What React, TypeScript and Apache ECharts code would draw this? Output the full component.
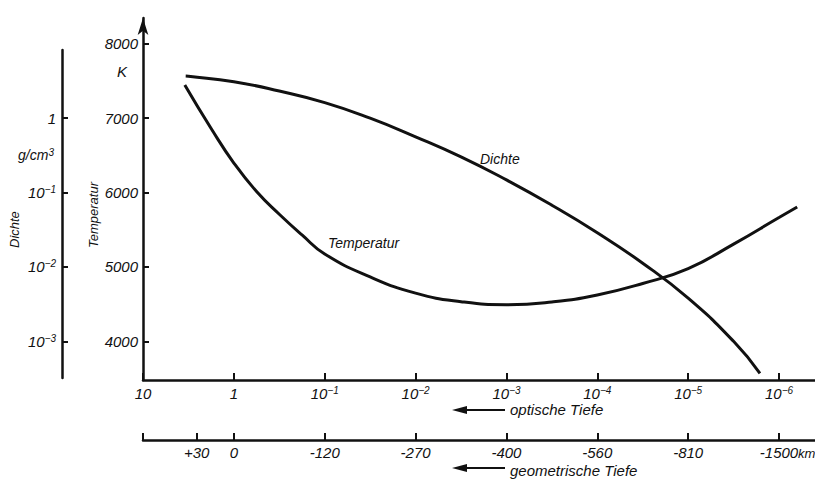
import React, { useEffect, useRef } from "react";
import * as echarts from "echarts";

// optical depth given as log10(tau)
const opticalTickPos = [1, 0, -1, -2, -3, -4, -5, -6];
const opticalTickLabels = ["10", "1", "10^-1", "10^-2", "10^-3", "10^-4", "10^-5", "10^-6"];

// geometric depth (km) at optical-depth positions
const geoTickPos = [1, 0.41, 0, -1, -2, -3, -4, -5, -6];
const geoLabelPos = [0.41, 0, -1, -2, -3, -4, -5, -6];
const geoTickLabels = ["+30", "0", "-120", "-270", "-400", "-560", "-810", "-1500"];

const tempTicks = [4000, 5000, 6000, 7000, 8000];
const densityTicks = [-3, -2, -1, 0];
const densityTickLabels = ["10^-3", "10^-2", "10^-1", "1"];

// Temperature curve (K) vs log10(tau)
const tempLogTau = [0.54, 0.25, 0, -0.25, -0.5, -0.75, -1, -1.5, -2, -2.5, -3, -3.5, -4, -4.5, -5, -5.5, -6, -6.2];
const tempK = [7447, 6862, 6397, 6013, 5708, 5430, 5174, 4866, 4648, 4533, 4492, 4529, 4623, 4778, 4979, 5307, 5664, 5806];

// Density curve, log10(rho / g cm^-3) vs log10(tau)
const densLogTau = [0.53, 0.5, 0, -0.5, -1, -1.5, -2, -2.5, -3, -3.5, -4, -4.5, -5, -5.5, -5.79];
const densLogRho = [0.568, 0.565, 0.49, 0.365, 0.21, 0.0, -0.25, -0.52, -0.83, -1.17, -1.54, -1.95, -2.42, -3.0, -3.43];

const FONT = "'Liberation Sans', Arial, sans-serif";
const INK = "#111";

function richLabel(s: string): string {
  if (s.includes("^")) {
    const [b, e] = s.split("^");
    return `{b|${b}}{s|${e.replace("-", "\u2212")}}`;
  }
  return `{b|${s}}`;
}

const rich = {
  b: { fontSize: 15, lineHeight: 16, fontStyle: "italic", fontFamily: FONT, color: INK },
  s: { fontSize: 10, lineHeight: 8, verticalAlign: "top", fontStyle: "italic", fontFamily: FONT, color: INK },
};

function lookup(pos: number[], labels: string[], v: number): string {
  const i = pos.findIndex((p) => Math.abs(p - v) < 1e-6);
  return i >= 0 ? labels[i] : "";
}

export default function App() {
  const ref = useRef<HTMLDivElement>(null);
  useEffect(() => {
    if (!ref.current) return;
    const chart = echarts.init(ref.current, undefined, { renderer: "svg" });
    const axisLine = { onZero: false, lineStyle: { color: INK, width: 2.5 } };
    const tickStyle = { color: INK, width: 2 };
    const txt = (text: string, x: number, y: number, fontSize: number, extra: any = {}, lh?: number) => ({
      type: "text", x, y, ...extra,
      style: { text, fontSize, lineHeight: lh ?? fontSize, fontStyle: "italic", fontFamily: FONT, fill: INK, textAlign: "left", textVerticalAlign: "middle" },
    });
    const option: any = {
      animation: false,
      backgroundColor: "#fff",
      textStyle: { fontFamily: FONT, fontStyle: "italic", color: INK },
      grid: [
        { left: 143, right: 0, top: 18, bottom: 99 },
        { left: 62, width: 10, top: 50, bottom: 101 },
      ],
      xAxis: [
        {
          gridIndex: 0, type: "value", min: -6.396, max: 1, inverse: true, position: "bottom",
          axisLine,
          axisTick: { inside: true, length: 7, lineStyle: tickStyle, customValues: opticalTickPos },
          axisLabel: {
            customValues: opticalTickPos, margin: 5, showMinLabel: true, showMaxLabel: true,
            formatter: (v: number) => richLabel(lookup(opticalTickPos, opticalTickLabels, v)), rich,
          },
          splitLine: { show: false },
        },
        {
          gridIndex: 0, type: "value", min: -6.396, max: 1, inverse: true, position: "bottom", offset: 60,
          axisLine,
          axisTick: { inside: true, length: 7, lineStyle: tickStyle, customValues: geoTickPos },
          axisLabel: {
            customValues: geoLabelPos, margin: 6, showMinLabel: true, showMaxLabel: true,
            fontSize: 15, lineHeight: 12, fontStyle: "italic", fontFamily: FONT, color: INK,
            formatter: (v: number) => lookup(geoLabelPos, geoTickLabels, v),
          },
          splitLine: { show: false },
        },
        { gridIndex: 1, type: "value", show: false, min: 0, max: 1 },
      ],
      yAxis: [
        {
          gridIndex: 0, type: "value", min: 3480, max: 8347, position: "left",
          axisLine: { ...axisLine, symbol: ["none", "arrow"], symbolSize: [8, 17] },
          axisTick: { inside: true, length: 6, lineStyle: tickStyle, customValues: tempTicks },
          axisLabel: {
            customValues: tempTicks, margin: 5, fontSize: 15, fontStyle: "italic", fontFamily: FONT, color: INK,
            formatter: (v: number) => String(v),
          },
          splitLine: { show: false },
        },
        { gridIndex: 0, type: "value", show: false, min: -3.52, max: 1.347 },
        {
          gridIndex: 1, type: "value", min: -3.493, max: 0.917, position: "left",
          axisLine,
          axisTick: { inside: true, length: 6, lineStyle: tickStyle, customValues: densityTicks },
          axisLabel: {
            customValues: densityTicks, margin: 6,
            formatter: (v: number) => richLabel(lookup(densityTicks, densityTickLabels, v)), rich,
          },
          splitLine: { show: false },
        },
      ],
      series: [
        {
          name: "Temperatur", type: "line", xAxisIndex: 0, yAxisIndex: 0, smooth: 0.5, symbol: "none", silent: true,
          lineStyle: { color: INK, width: 3 },
          data: tempLogTau.map((x, i) => [x, tempK[i]]),
        },
        {
          name: "Dichte", type: "line", xAxisIndex: 0, yAxisIndex: 1, smooth: 0.5, symbol: "none", silent: true,
          lineStyle: { color: INK, width: 3 },
          data: densLogTau.map((x, i) => [x, densLogRho[i]]),
        },
      ],
      graphic: [
        txt("K", 117, 71, 15),
        {
          type: "text", x: 36, y: 155,
          style: {
            text: "{b|g/cm}{s|3}", textAlign: "center", textVerticalAlign: "middle",
            rich: { b: { fontSize: 14, lineHeight: 16, fontStyle: "italic", fontFamily: FONT, fill: INK }, s: { fontSize: 10, lineHeight: 8, verticalAlign: "top", fontStyle: "italic", fontFamily: FONT, fill: INK } },
          },
        },
        txt("Dichte", 14, 248, 13, { rotation: Math.PI / 2 }),
        txt("Temperatur", 93, 248, 13, { rotation: Math.PI / 2 }),
        txt("Dichte", 480, 159, 14),
        txt("Temperatur", 328, 243, 14),
        // optical depth arrow
        { type: "line", shape: { x1: 505, y1: 410, x2: 462, y2: 410 }, style: { stroke: INK, lineWidth: 2 } },
        { type: "polygon", shape: { points: [[452, 410], [467, 406], [467, 414]] }, style: { fill: INK } },
        txt("optische Tiefe", 510, 409, 15, {}, 13),
        // geometric depth arrow
        { type: "line", shape: { x1: 505, y1: 468, x2: 462, y2: 468 }, style: { stroke: INK, lineWidth: 2 } },
        { type: "polygon", shape: { points: [[452, 468], [467, 464], [467, 472]] }, style: { fill: INK } },
        txt("geometrische Tiefe", 510, 470, 15, {}, 12),
        txt("km", 798, 453, 13, {}, 13),
      ],
    };
    chart.setOption(option);
    return () => chart.dispose();
  }, []);
  return <div ref={ref} style={{ position: "absolute", left: 0, top: 0, width: 815, height: 479, background: "#fff" }} />;
}
